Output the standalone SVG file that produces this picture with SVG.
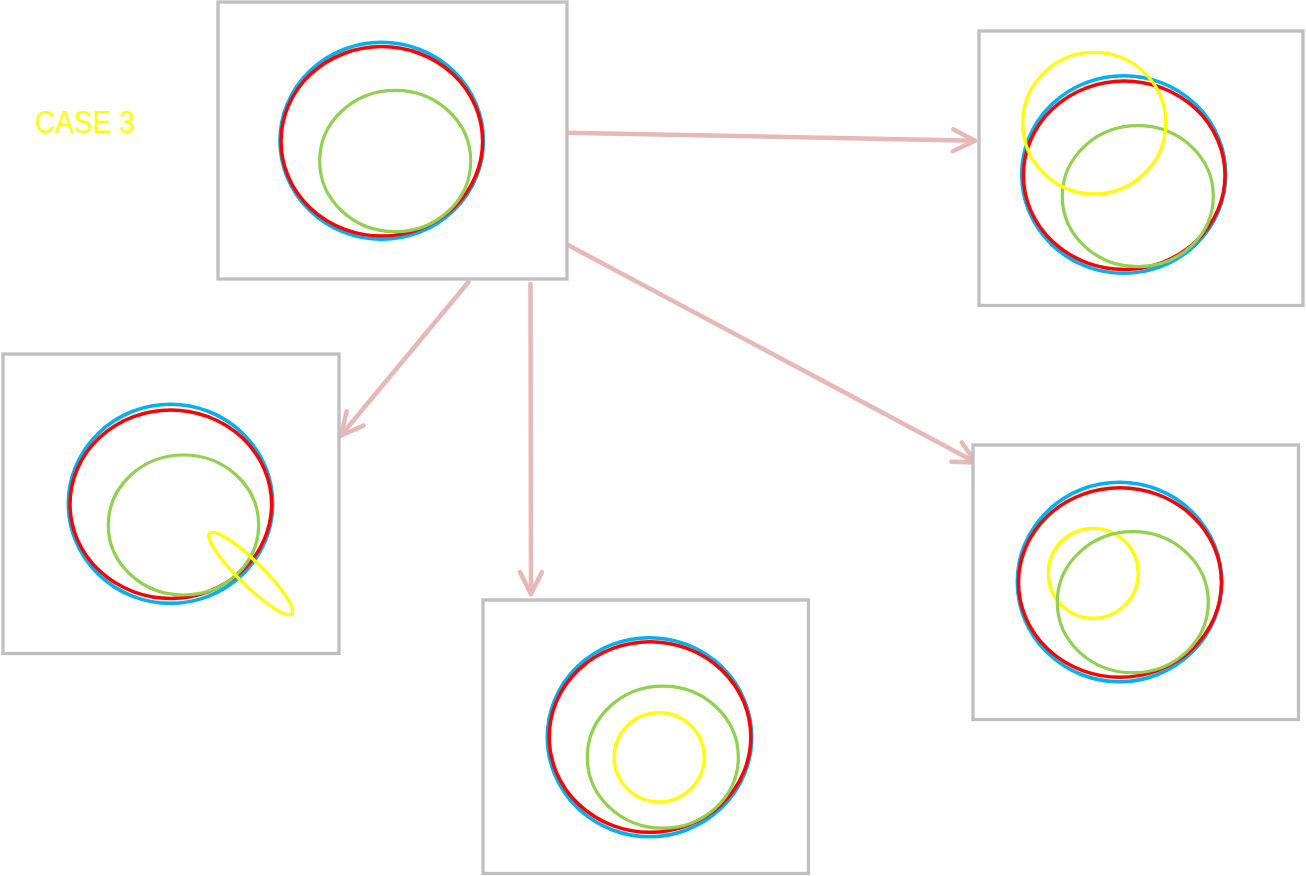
<svg xmlns="http://www.w3.org/2000/svg" width="1306" height="876" viewBox="0 0 1306 876">
<defs>
<style>
.box{fill:#FFFFFF;stroke:#BFBFBF;stroke-width:3.3}
.b{fill:none;stroke:#00B0F0;stroke-width:3.6}
.r{fill:none;stroke:#FF0000;stroke-width:3.5}
.g{fill:none;stroke:#92D050;stroke-width:3.2}
.y{fill:none;stroke:#FFFF00;stroke-width:3.3}
.conn{fill:none;stroke:#E6B9B8;stroke-width:4.5;stroke-linecap:round;marker-end:url(#chev)}
.lbl{font-family:"Liberation Sans",Arial,sans-serif;font-size:31px;fill:#FFFF00}
</style>
<marker id="chev" markerUnits="userSpaceOnUse" markerWidth="40" markerHeight="40" refX="0" refY="0" orient="auto" viewBox="-30 -20 40 40" overflow="visible">
<path d="M-22,-11 L0,0 L-22,11" fill="none" stroke="#E6B9B8" stroke-width="4.5" stroke-linecap="round" stroke-linejoin="round"/>
</marker>
</defs>
<rect width="1306" height="876" fill="#FFFFFF"/>
<text class="lbl" x="35" y="132.5" textLength="100" lengthAdjust="spacingAndGlyphs">CASE 3</text>

<g id="connectors">
<line class="conn" x1="564" y1="132.7" x2="975" y2="140.7"/>
<line class="conn" x1="468.5" y1="282" x2="341" y2="435.5"/>
<line class="conn" x1="530.5" y1="284" x2="531" y2="594"/>
<line class="conn" x1="568" y1="245" x2="976" y2="462.5"/>
</g>

<g id="node-top">
<rect class="box" x="218" y="2" width="349" height="277"/>
<ellipse class="b" cx="381.7" cy="140.8" rx="101.7" ry="98.5"/>
<ellipse class="r" cx="381.8" cy="141.3" rx="100.8" ry="94.7"/>
<ellipse class="g" cx="395.2" cy="161" rx="75.5" ry="70.7"/>
</g>

<g id="node-right-top">
<rect class="box" x="979" y="31" width="324" height="274.5"/>
<ellipse class="b" cx="1123.7" cy="174.5" rx="102" ry="98.8"/>
<ellipse class="r" cx="1124.2" cy="175.2" rx="100.8" ry="94.2"/>
<ellipse class="g" cx="1137.8" cy="196.2" rx="75.5" ry="70.5"/>
<ellipse class="y" cx="1094.3" cy="123.2" rx="71.5" ry="70.8"/>
</g>

<g id="node-left">
<rect class="box" x="3" y="354" width="336" height="299.5"/>
<ellipse class="b" cx="170.5" cy="503.8" rx="102.2" ry="99.5"/>
<ellipse class="r" cx="170.8" cy="504.2" rx="100.8" ry="94.2"/>
<ellipse class="g" cx="183.5" cy="525" rx="75.2" ry="70"/>
<ellipse class="y" cx="250.8" cy="573.5" rx="57.5" ry="12" transform="rotate(44.5 250.8 573.5)"/>
</g>

<g id="node-bottom">
<rect class="box" x="483" y="600" width="325.5" height="273.5"/>
<ellipse class="b" cx="649.5" cy="737.2" rx="102.2" ry="99.5"/>
<ellipse class="r" cx="650" cy="737" rx="100.8" ry="95.3"/>
<ellipse class="g" cx="662.8" cy="757.2" rx="75.5" ry="71"/>
<ellipse class="y" cx="659.2" cy="757.3" rx="45" ry="44.7"/>
</g>

<g id="node-right-bottom">
<rect class="box" x="973" y="445" width="325.5" height="274.5"/>
<ellipse class="b" cx="1119.5" cy="582" rx="102.2" ry="99.7"/>
<ellipse class="r" cx="1120" cy="582.5" rx="101.5" ry="94.8"/>
<ellipse class="y" cx="1093.3" cy="573.3" rx="45" ry="45"/>
<ellipse class="g" cx="1132.8" cy="602.2" rx="75.5" ry="70.5"/>
</g>
</svg>
